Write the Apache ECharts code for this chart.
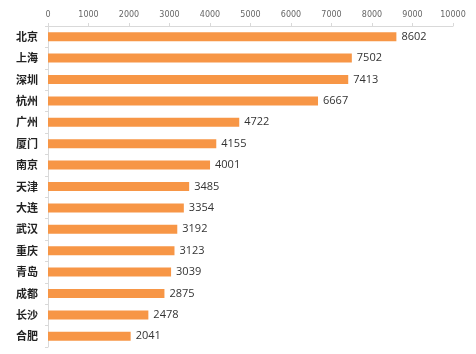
<!DOCTYPE html>
<html>
<head>
<meta charset="utf-8">
<title>城市排行</title>
<script src="https://cdn.jsdelivr.net/npm/echarts@6/dist/echarts.min.js"></script>
<style>
  html, body { margin: 0; padding: 0; background: #fff; }
  #chart { width: 476px; height: 354px; }
</style>
</head>
<body>
<div id="chart"></div>
<script type="text/javascript">
var cities = ['北京', '上海', '深圳', '杭州', '广州', '厦门', '南京', '天津', '大连', '武汉', '重庆', '青岛', '成都', '长沙', '合肥'];
var values = [8602, 7502, 7413, 6667, 4722, 4155, 4001, 3485, 3354, 3192, 3123, 3039, 2875, 2478, 2041];

var myChart = echarts.init(document.getElementById('chart'), null, { renderer: 'canvas' });

var option = {
    animation: false,
    grid: { left: 48, right: 23, top: 26, bottom: 7 },
    xAxis: {
        type: 'value',
        position: 'top',
        min: 0,
        max: 10000,
        interval: 1000,
        axisLine: { show: true, lineStyle: { color: '#d9d9d9' } },
        axisTick: { show: true, length: 3, lineStyle: { color: '#d9d9d9' } },
        axisLabel: {
            fontSize: 8, color: '#666', margin: 7, fontFamily: 'DejaVu Sans',
            formatter: function (v) { return String(v); }
        },
        splitLine: { show: false }
    },
    yAxis: {
        type: 'category',
        inverse: true,
        data: cities,
        axisLine: { show: true, lineStyle: { color: '#d9d9d9' } },
        axisTick: { show: true, length: 3, lineStyle: { color: '#d9d9d9' } },
        axisLabel: { fontSize: 11, fontWeight: 'bold', color: '#222', margin: 10, fontFamily: 'Noto Sans CJK SC' }
    },
    series: [{
        type: 'bar',
        data: values,
        barWidth: 9,
        itemStyle: { color: '#F79646' },
        label: {
            show: true,
            position: 'right',
            distance: 5,
            fontSize: 11,
            color: '#333',
            fontFamily: 'Open Sans'
        }
    }]
};
myChart.setOption(option);
</script>
</body>
</html>
